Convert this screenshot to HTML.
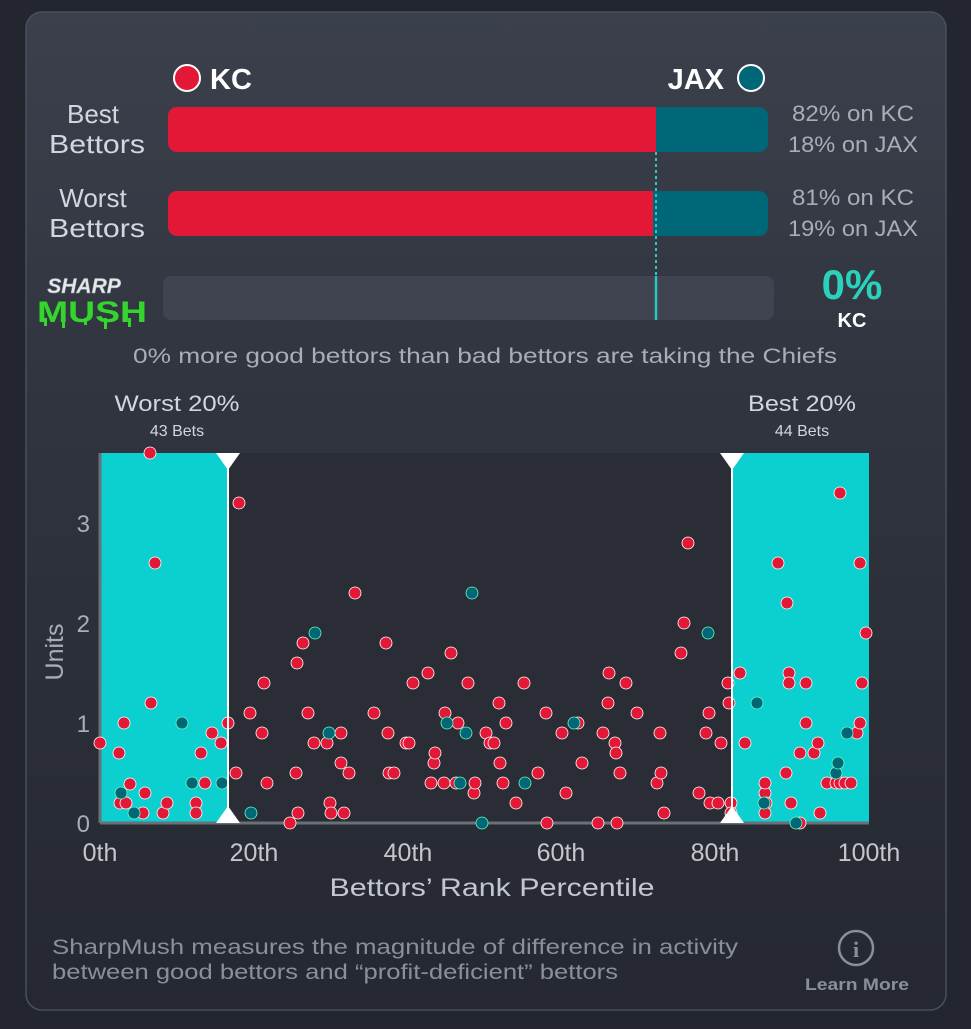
<!DOCTYPE html>
<html><head><meta charset="utf-8"><style>
html,body{margin:0;padding:0;background:#23262e;}
body{width:971px;height:1024px;overflow:hidden;font-family:"Liberation Sans",sans-serif;}
</style></head><body>
<svg width="971" height="1024" viewBox="0 0 971 1024" xmlns="http://www.w3.org/2000/svg" font-family="Liberation Sans, sans-serif">
<defs>
<linearGradient id="cg" x1="0" y1="0" x2="0" y2="1">
<stop offset="0" stop-color="#3b404c"/><stop offset="0.4" stop-color="#30343e"/><stop offset="1" stop-color="#252831"/>
</linearGradient>
</defs>
<rect width="971" height="1024" fill="#23262e"/>
<rect x="26" y="12" width="920" height="998" rx="16" fill="url(#cg)" stroke="#4a4f5a" stroke-width="1.5"/>
<circle cx="187" cy="78" r="13" fill="#e31837" stroke="#fff" stroke-width="2"/>
<text x="210" y="89" font-size="29" font-weight="bold" fill="#fff">KC</text>
<text x="724" y="89" font-size="29" font-weight="bold" fill="#fff" text-anchor="end">JAX</text>
<circle cx="751" cy="78" r="13" fill="#006778" stroke="#fff" stroke-width="2"/>
<text x="93" y="123" font-size="26" fill="#d3d6dc" text-anchor="middle">Best</text>
<text x="97" y="153" font-size="26" fill="#d3d6dc" text-anchor="middle" textLength="96" lengthAdjust="spacingAndGlyphs">Bettors</text>
<rect x="168" y="107" width="600" height="45" rx="9" fill="#006778"/>
<path d="M177 107 H656 V152 H177 A9 9 0 0 1 168 143 V116 A9 9 0 0 1 177 107Z" fill="#e31837"/>
<text x="853" y="121" font-size="22" fill="#a9adb5" text-anchor="middle" textLength="122" lengthAdjust="spacingAndGlyphs">82% on KC</text>
<text x="853" y="152" font-size="22" fill="#a9adb5" text-anchor="middle" textLength="130" lengthAdjust="spacingAndGlyphs">18% on JAX</text>
<text x="93" y="207" font-size="26" fill="#d3d6dc" text-anchor="middle">Worst</text>
<text x="97" y="237" font-size="26" fill="#d3d6dc" text-anchor="middle" textLength="96" lengthAdjust="spacingAndGlyphs">Bettors</text>
<rect x="168" y="191" width="600" height="45" rx="9" fill="#006778"/>
<path d="M177 191 H653 V236 H177 A9 9 0 0 1 168 227 V200 A9 9 0 0 1 177 191Z" fill="#e31837"/>
<text x="853" y="205" font-size="22" fill="#a9adb5" text-anchor="middle" textLength="122" lengthAdjust="spacingAndGlyphs">81% on KC</text>
<text x="853" y="236" font-size="22" fill="#a9adb5" text-anchor="middle" textLength="130" lengthAdjust="spacingAndGlyphs">19% on JAX</text>
<line x1="656" y1="152" x2="656" y2="276" stroke="#2cc7c0" stroke-width="2" stroke-dasharray="3,3"/>
<rect x="163" y="276" width="611" height="44" rx="8" fill="#3f4450"/>
<line x1="656" y1="276" x2="656" y2="320" stroke="#2cc7c0" stroke-width="2.5"/>
<text x="852" y="299" font-size="42" font-weight="bold" fill="#2ad2bb" text-anchor="middle">0%</text>
<text x="852" y="327" font-size="20" font-weight="bold" fill="#fff" text-anchor="middle">KC</text>
<text x="84" y="293" font-size="21" font-weight="bold" font-style="italic" fill="#e8e8ec" text-anchor="middle" stroke="#9aa" stroke-width="0.5">SHARP</text>
<text x="92" y="322" font-size="30" font-weight="bold" fill="#34d62e" text-anchor="middle" textLength="110" lengthAdjust="spacingAndGlyphs">MUSH</text>
<g fill="#34d62e"><rect x="44" y="318" width="3" height="8"/><rect x="62" y="318" width="3" height="10"/><rect x="84" y="318" width="3" height="7"/><rect x="104" y="318" width="3" height="11"/><rect x="128" y="318" width="3" height="9"/></g>
<text x="485" y="363" font-size="21" fill="#a9adb5" text-anchor="middle" textLength="704" lengthAdjust="spacingAndGlyphs">0% more good bettors than bad bettors are taking the Chiefs</text>
<text x="177" y="411" font-size="22" fill="#d3d6dc" text-anchor="middle" textLength="125" lengthAdjust="spacingAndGlyphs">Worst 20%</text>
<text x="177" y="436" font-size="16" fill="#d3d6dc" text-anchor="middle">43 Bets</text>
<text x="802" y="411" font-size="22" fill="#d3d6dc" text-anchor="middle" textLength="108" lengthAdjust="spacingAndGlyphs">Best 20%</text>
<text x="802" y="436" font-size="16" fill="#d3d6dc" text-anchor="middle">44 Bets</text>
<rect x="100" y="453" width="769" height="370" fill="#2a2d35"/>
<rect x="100" y="453" width="128" height="370" fill="#0ccfcf"/>
<rect x="732" y="453" width="137" height="370" fill="#0ccfcf"/>
<line x1="100" y1="453" x2="100" y2="823" stroke="#6b6f78" stroke-width="3"/>
<line x1="100" y1="823" x2="869" y2="823" stroke="#6b6f78" stroke-width="3"/>
<g font-size="24" fill="#a9adb5" text-anchor="end">
<text x="90" y="532">3</text><text x="90" y="632">2</text><text x="90" y="732">1</text><text x="90" y="832">0</text>
</g>
<text transform="translate(63,652) rotate(-90)" font-size="25" fill="#a9adb5" text-anchor="middle">Units</text>
<g font-size="25" fill="#c3c6cc" text-anchor="middle">
<text x="100" y="861">0th</text><text x="254" y="861">20th</text><text x="408" y="861">40th</text><text x="561" y="861">60th</text><text x="715" y="861">80th</text><text x="869" y="861">100th</text>
</g>
<text x="492" y="896" font-size="25" fill="#c3c6cc" text-anchor="middle" textLength="325" lengthAdjust="spacingAndGlyphs">Bettors’ Rank Percentile</text>
<g stroke="#fff" stroke-width="0.8">
<g fill="#e31837">
<circle cx="100" cy="743" r="6"/><circle cx="119" cy="753" r="6"/><circle cx="124" cy="723" r="6"/><circle cx="130" cy="784" r="6"/><circle cx="120" cy="803" r="6"/><circle cx="126" cy="803" r="6"/><circle cx="143" cy="813" r="6"/><circle cx="145" cy="793" r="6"/><circle cx="150" cy="453" r="6"/><circle cx="151" cy="703" r="6"/><circle cx="155" cy="563" r="6"/><circle cx="163" cy="813" r="6"/><circle cx="167" cy="803" r="6"/><circle cx="196" cy="803" r="6"/><circle cx="196" cy="813" r="6"/><circle cx="201" cy="753" r="6"/><circle cx="205" cy="783" r="6"/><circle cx="212" cy="733" r="6"/><circle cx="221" cy="743" r="6"/><circle cx="228" cy="723" r="6"/>
<circle cx="236" cy="773" r="6"/><circle cx="239" cy="503" r="6"/><circle cx="250" cy="713" r="6"/><circle cx="262" cy="733" r="6"/><circle cx="264" cy="683" r="6"/><circle cx="267" cy="783" r="6"/><circle cx="290" cy="823" r="6"/><circle cx="296" cy="773" r="6"/><circle cx="298" cy="813" r="6"/><circle cx="297" cy="663" r="6"/><circle cx="303" cy="643" r="6"/><circle cx="308" cy="713" r="6"/><circle cx="314" cy="743" r="6"/><circle cx="327" cy="743" r="6"/><circle cx="330" cy="803" r="6"/><circle cx="331" cy="813" r="6"/><circle cx="341" cy="733" r="6"/><circle cx="341" cy="763" r="6"/><circle cx="344" cy="813" r="6"/><circle cx="349" cy="773" r="6"/><circle cx="355" cy="593" r="6"/><circle cx="374" cy="713" r="6"/><circle cx="386" cy="643" r="6"/><circle cx="388" cy="733" r="6"/><circle cx="389" cy="773" r="6"/><circle cx="394" cy="773" r="6"/><circle cx="406" cy="743" r="6"/><circle cx="409" cy="743" r="6"/><circle cx="413" cy="683" r="6"/><circle cx="428" cy="673" r="6"/><circle cx="431" cy="783" r="6"/><circle cx="434" cy="763" r="6"/><circle cx="435" cy="753" r="6"/><circle cx="444" cy="783" r="6"/><circle cx="445" cy="713" r="6"/><circle cx="451" cy="653" r="6"/><circle cx="456" cy="783" r="6"/><circle cx="458" cy="723" r="6"/><circle cx="468" cy="683" r="6"/><circle cx="474" cy="793" r="6"/><circle cx="475" cy="783" r="6"/><circle cx="486" cy="733" r="6"/><circle cx="490" cy="743" r="6"/><circle cx="494" cy="743" r="6"/><circle cx="499" cy="703" r="6"/><circle cx="500" cy="763" r="6"/><circle cx="503" cy="783" r="6"/><circle cx="506" cy="723" r="6"/><circle cx="516" cy="803" r="6"/><circle cx="524" cy="683" r="6"/><circle cx="538" cy="773" r="6"/><circle cx="546" cy="713" r="6"/><circle cx="547" cy="823" r="6"/><circle cx="562" cy="733" r="6"/><circle cx="566" cy="793" r="6"/><circle cx="578" cy="723" r="6"/><circle cx="582" cy="763" r="6"/><circle cx="598" cy="823" r="6"/><circle cx="603" cy="733" r="6"/><circle cx="608" cy="703" r="6"/><circle cx="609" cy="673" r="6"/><circle cx="615" cy="743" r="6"/><circle cx="616" cy="753" r="6"/><circle cx="617" cy="823" r="6"/><circle cx="620" cy="773" r="6"/><circle cx="626" cy="683" r="6"/><circle cx="637" cy="713" r="6"/><circle cx="657" cy="783" r="6"/><circle cx="660" cy="733" r="6"/><circle cx="661" cy="773" r="6"/><circle cx="664" cy="813" r="6"/><circle cx="681" cy="653" r="6"/><circle cx="684" cy="623" r="6"/><circle cx="688" cy="543" r="6"/><circle cx="699" cy="793" r="6"/><circle cx="706" cy="733" r="6"/><circle cx="709" cy="713" r="6"/><circle cx="710" cy="803" r="6"/><circle cx="718" cy="803" r="6"/><circle cx="721" cy="743" r="6"/><circle cx="728" cy="683" r="6"/><circle cx="729" cy="703" r="6"/><circle cx="731" cy="803" r="6"/><circle cx="731" cy="813" r="6"/>
<circle cx="740" cy="673" r="6"/><circle cx="745" cy="743" r="6"/><circle cx="765" cy="793" r="6"/><circle cx="765" cy="783" r="6"/><circle cx="766" cy="803" r="6"/><circle cx="765" cy="813" r="6"/><circle cx="778" cy="563" r="6"/><circle cx="786" cy="773" r="6"/><circle cx="787" cy="603" r="6"/><circle cx="789" cy="673" r="6"/><circle cx="789" cy="683" r="6"/><circle cx="791" cy="803" r="6"/><circle cx="800" cy="823" r="6"/><circle cx="800" cy="753" r="6"/><circle cx="806" cy="683" r="6"/><circle cx="806" cy="723" r="6"/><circle cx="814" cy="753" r="6"/><circle cx="818" cy="743" r="6"/><circle cx="820" cy="813" r="6"/><circle cx="827" cy="783" r="6"/><circle cx="836" cy="783" r="6"/><circle cx="840" cy="783" r="6"/><circle cx="840" cy="493" r="6"/><circle cx="845" cy="783" r="6"/><circle cx="851" cy="783" r="6"/><circle cx="857" cy="733" r="6"/><circle cx="860" cy="563" r="6"/><circle cx="862" cy="683" r="6"/><circle cx="860" cy="723" r="6"/><circle cx="866" cy="633" r="6"/>
</g>
<g fill="#006778" stroke="#6fb">
<circle cx="121" cy="793" r="6"/><circle cx="134" cy="813" r="6"/><circle cx="182" cy="723" r="6"/><circle cx="192" cy="783" r="6"/><circle cx="222" cy="783" r="6"/><circle cx="251" cy="813" r="6"/><circle cx="315" cy="633" r="6"/><circle cx="329" cy="733" r="6"/><circle cx="447" cy="723" r="6"/><circle cx="460" cy="783" r="6"/><circle cx="466" cy="733" r="6"/><circle cx="472" cy="593" r="6"/><circle cx="482" cy="823" r="6"/><circle cx="525" cy="783" r="6"/><circle cx="574" cy="723" r="6"/><circle cx="708" cy="633" r="6"/><circle cx="757" cy="703" r="6"/><circle cx="764" cy="803" r="6"/><circle cx="796" cy="823" r="6"/><circle cx="836" cy="773" r="6"/><circle cx="838" cy="763" r="6"/><circle cx="847" cy="733" r="6"/>
</g>
</g>
<line x1="228" y1="453" x2="228" y2="823" stroke="#fff" stroke-width="2"/>
<line x1="732" y1="453" x2="732" y2="823" stroke="#fff" stroke-width="2"/>
<path d="M216 453 H240 L228 470Z M216 823 H240 L228 806Z M720 453 H744 L732 470Z M720 823 H744 L732 806Z" fill="#fff"/>
<text x="52" y="954" font-size="21" fill="#8a8f9a" textLength="686" lengthAdjust="spacingAndGlyphs">SharpMush measures the magnitude of difference in activity</text>
<text x="52" y="979" font-size="21" fill="#8a8f9a" textLength="566" lengthAdjust="spacingAndGlyphs">between good bettors and “profit-deficient” bettors</text>
<circle cx="856" cy="948" r="17" fill="none" stroke="#8a8f9a" stroke-width="2.5"/>
<text x="856" y="957" font-size="22" font-weight="bold" fill="#8a8f9a" text-anchor="middle" font-family="Liberation Serif, serif">i</text>
<text x="857" y="990" font-size="17" font-weight="bold" fill="#8a8f9a" text-anchor="middle" textLength="104" lengthAdjust="spacingAndGlyphs">Learn More</text>
</svg>
</body></html>
